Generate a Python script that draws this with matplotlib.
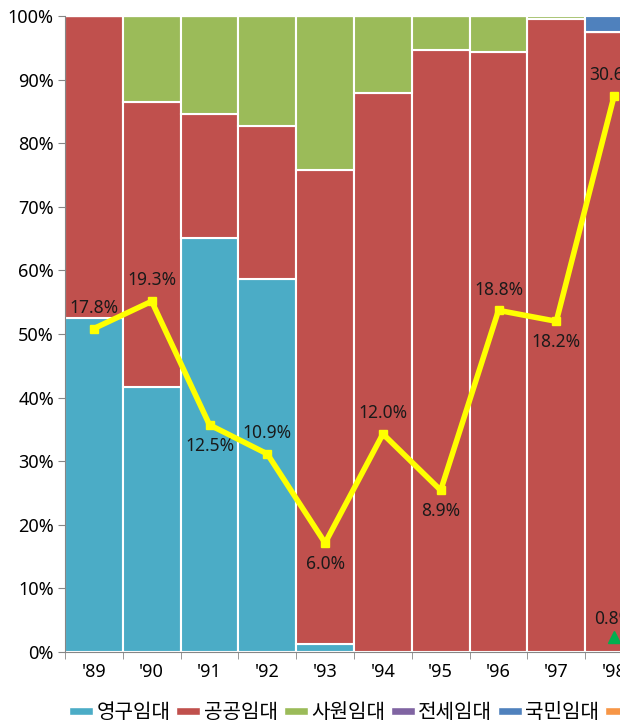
import numpy as np
import matplotlib
matplotlib.use("Agg")
import matplotlib.pyplot as plt
from matplotlib.patches import Patch

plt.rcParams['font.family'] = ['Noto Sans', 'Noto Sans CJK KR', 'DejaVu Sans']

years = ["'89", "'90", "'91", "'92", "'93", "'94", "'95", "'96", "'97", "'98"]
series_names = ['영구임대', '공공임대', '사원임대', '전세임대', '국민임대', '기타']
series_colors = ['#4BACC6', '#C0504D', '#9BBB59', '#8064A2', '#4F81BD', '#F79646']

# shares of each type, percent
permanent = [52.5, 41.7, 65.1, 58.6, 1.3, 0.0, 0.0, 0.0, 0.0, 0.0]
public = [47.5, 44.8, 19.5, 24.1, 74.5, 87.9, 94.7, 94.3, 99.5, 97.5]
company = [0.0, 13.5, 15.4, 17.3, 24.2, 12.1, 5.3, 5.7, 0.5, 0.0]
jeonse = [0.0] * 10
national = [0.0, 0.0, 0.0, 0.0, 0.0, 0.0, 0.0, 0.0, 0.0, 2.5]
other = [0.0] * 10

# line series (right scale, 0-35%)
line_vals = [17.8, 19.3, 12.5, 10.9, 6.0, 12.0, 8.9, 18.8, 18.2, 30.6]
line_above = [True, True, False, True, False, True, False, True, False, True]
green_vals = [np.nan] * 9 + [0.8]

fig = plt.figure(figsize=(6.2, 7.25), dpi=100)
ax = fig.add_axes([65 / 620, 73 / 725, 578 / 620, 636 / 725])

x = np.arange(len(years))
bottom = np.zeros(len(years))
for vals, col in zip([permanent, public, company, jeonse, national, other], series_colors):
    vals = np.array(vals)
    ax.bar(x, vals, width=1.0, bottom=bottom, color=col, edgecolor='white', linewidth=1.5)
    bottom += vals

ax.set_xlim(-0.5, 9.5)
ax.set_ylim(0, 100)
ax.set_yticks(np.arange(0, 101, 10))
ax.set_yticklabels([f'{v}%' for v in range(0, 101, 10)], fontsize=13)
ax.set_xticks(x)
ax.set_xticklabels(years, fontsize=13)
ax.tick_params(axis='x', length=0, pad=8)
ax.set_xticks(np.arange(-0.5, 10, 1), minor=True)
ax.tick_params(axis='x', which='minor', length=5, color='#868686')
ax.tick_params(axis='y', length=5, color='#868686', pad=3)
for s in ['top', 'right']:
    ax.spines[s].set_visible(False)
for s in ['left', 'bottom']:
    ax.spines[s].set_color('#868686')

ax2 = ax.twinx()
ax2.set_ylim(0, 35)
ax2.axis('off')
ax2.plot(x, line_vals, color='#FFFF00', linewidth=4, marker='s', markersize=6, zorder=5)
ax2.plot(x, green_vals, color='#00B050', linewidth=3, marker='^', markersize=9, zorder=5)
for xi, v, up in zip(x, line_vals, line_above):
    off = 15 if up else -15
    ax2.annotate(f'{v:.1f}%', (xi, v), xytext=(0, off), textcoords='offset points',
                 ha='center', va='center', fontsize=12.5, color='#1a1a1a')
ax2.annotate('0.8%', (9, 0.8), xytext=(0, 13), textcoords='offset points',
             ha='center', va='center', fontsize=12.5, color='#1a1a1a')

handles = [Patch(facecolor=c, edgecolor='white') for c in series_colors]
fig.legend(handles, series_names, loc='lower left', bbox_to_anchor=(55 / 620, -0.017),
           ncol=6, frameon=False, fontsize=14.5, handlelength=1.2, handleheight=0.3,
           handletextpad=0.15, columnspacing=0.3, borderaxespad=0.3)

fig.savefig('out.png', dpi=100)
